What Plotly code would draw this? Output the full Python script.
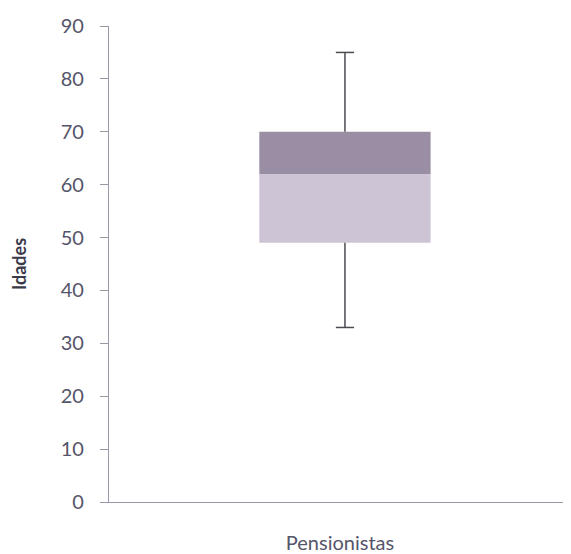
import plotly.graph_objects as go

# box plot summary
category = ['Pensionistas']
minimo = [33]
q1 = [49]
mediana = [62]
q3 = [70]
maximo = [85]

y_ticks = [0, 10, 20, 30, 40, 50, 60, 70, 80, 90]

light = '#cdc4d6'
dark = '#9a8ea4'
whisker = '#4d4a52'
text_col = '#55556a'
axis_col = '#9a98a8'

fig = go.Figure()

# lower half of the box (q1 -> median)
fig.add_trace(go.Bar(
    x=category, y=[m - a for m, a in zip(mediana, q1)], base=q1,
    marker=dict(color=light, line=dict(width=0)), width=0.363,
    hoverinfo='skip', showlegend=False,
))
# upper half of the box (median -> q3)
fig.add_trace(go.Bar(
    x=category, y=[b - m for b, m in zip(q3, mediana)], base=mediana,
    marker=dict(color=dark, line=dict(width=0)), width=0.363,
    hoverinfo='skip', showlegend=False,
))

# whiskers
for lo, hi in [(minimo, q1), (q3, maximo)]:
    fig.add_trace(go.Scatter(
        x=category * 2, y=[lo[0], hi[0]], mode='lines',
        line=dict(color=whisker, width=1.5), hoverinfo='skip', showlegend=False,
    ))
# caps
fig.add_trace(go.Scatter(
    x=category * 2, y=[minimo[0], maximo[0]], mode='markers',
    marker=dict(symbol='line-ew', size=13, line=dict(color=whisker, width=1.5)),
    hoverinfo='skip', showlegend=False,
))

# page body adds an 8px offset, so the figure is sized/margined to compensate
fig.update_layout(
    width=563, height=546,
    margin=dict(l=101, r=0, t=18, b=52),
    barmode='overlay',
    plot_bgcolor='white', paper_bgcolor='white',
    font=dict(family='Lato, Open Sans, sans-serif', color=text_col, size=20),
)

fig.update_yaxes(
    range=[0, 90], tickvals=y_ticks, showgrid=False, zeroline=False,
    showline=True, linecolor=axis_col, linewidth=1.2,
    ticks='outside', ticklen=8, tickcolor=axis_col, ticklabelstandoff=12,
    tickfont=dict(size=20),
    title=dict(text='<b>Idades</b>', font=dict(size=18, color='#3a3a4a'), standoff=30),
)
fig.update_xaxes(
    type='category', range=[-0.5, 0.479], showgrid=False, zeroline=False,
    showline=True, linecolor=axis_col, linewidth=1.2,
    showticklabels=False, ticks='',
    title=dict(text='Pensionistas', font=dict(size=20), standoff=35),
)

fig.write_html('out.html')
